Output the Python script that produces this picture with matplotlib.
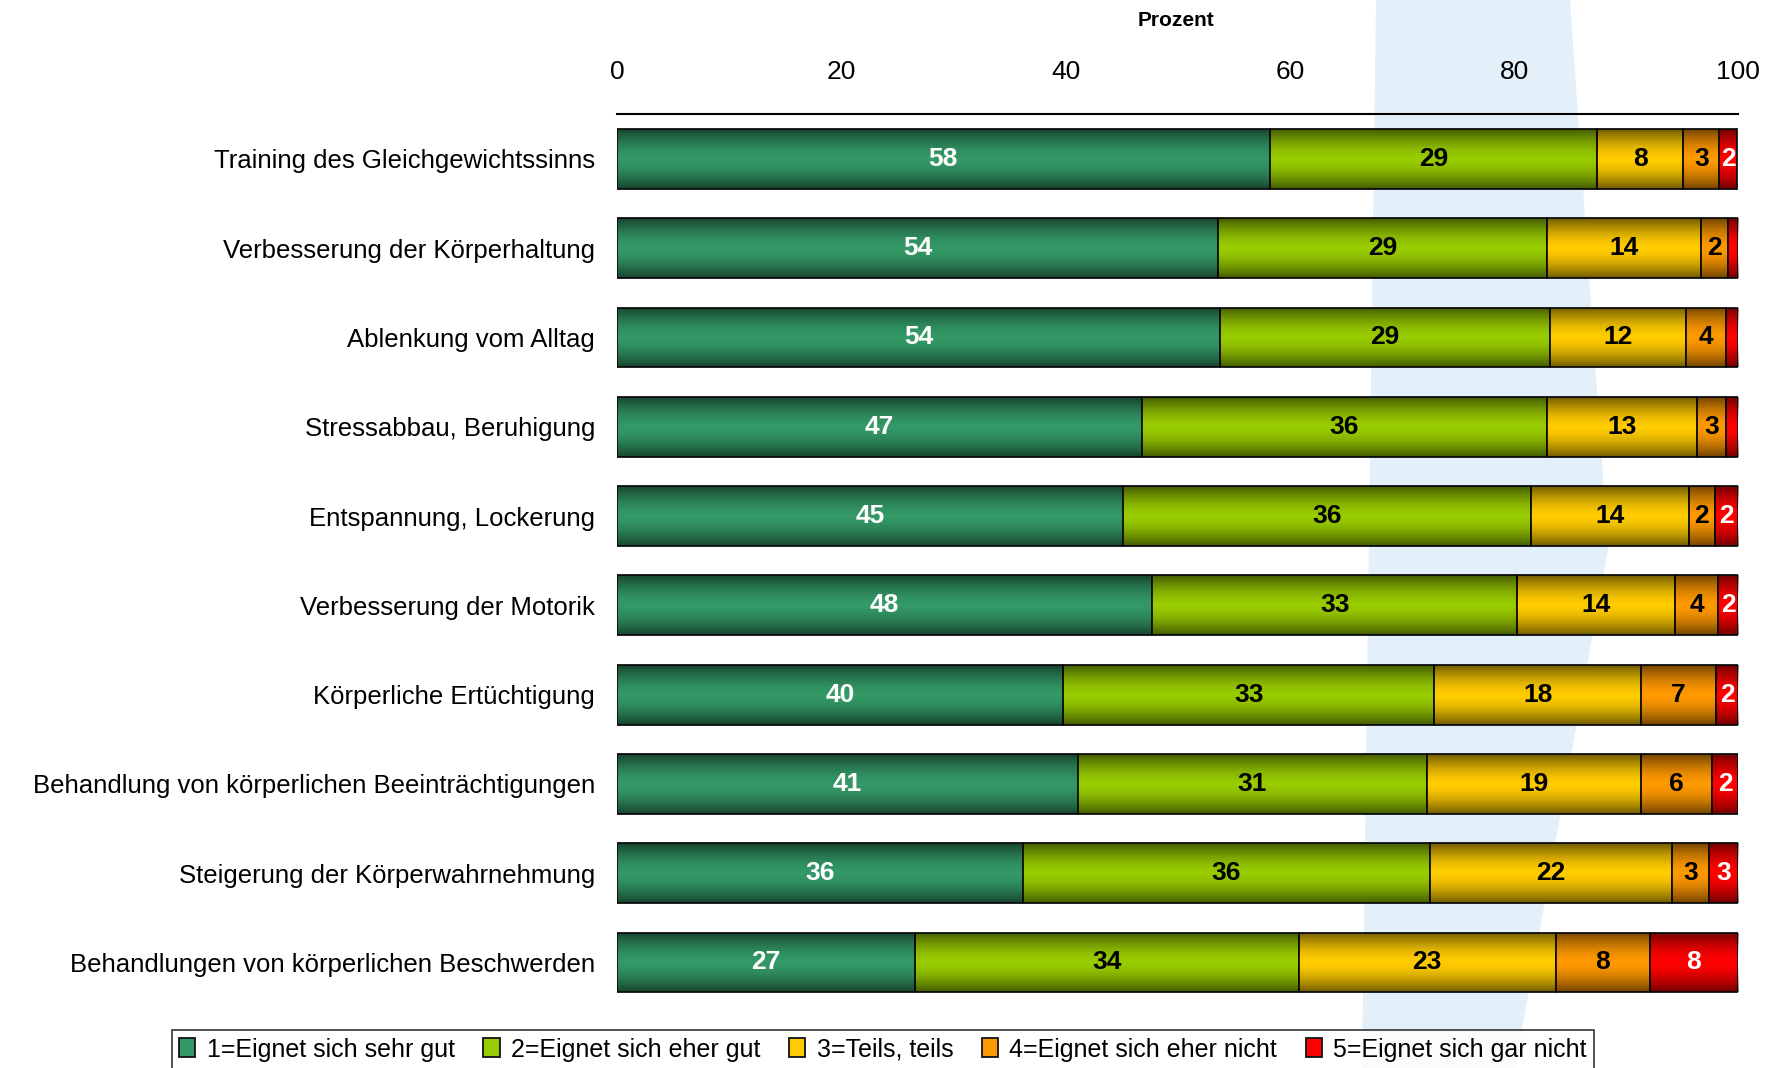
import numpy as np
import matplotlib

matplotlib.use("Agg")
import matplotlib.pyplot as plt
from matplotlib.patches import Polygon

plt.rcParams["font.family"] = ["Liberation Sans", "DejaVu Sans"]

categories = [
    "Training des Gleichgewichtssinns",
    "Verbesserung der Körperhaltung",
    "Ablenkung vom Alltag",
    "Stressabbau, Beruhigung",
    "Entspannung, Lockerung",
    "Verbesserung der Motorik",
    "Körperliche Ertüchtigung",
    "Behandlung von körperlichen Beeinträchtigungen",
    "Steigerung der Körperwahrnehmung",
    "Behandlungen von körperlichen Beschwerden",
]
sehr_gut = [58.2, 53.6, 53.8, 46.8, 45.1, 47.7, 39.8, 41.1, 36.2, 26.6]
eher_gut = [29.2, 29.3, 29.4, 36.1, 36.4, 32.6, 33.1, 31.1, 36.3, 34.2]
teils = [7.7, 13.8, 12.1, 13.4, 14.1, 14.1, 18.4, 19.1, 21.6, 22.9]
eher_nicht = [3.2, 2.4, 3.6, 2.6, 2.3, 3.8, 6.7, 6.4, 3.3, 8.4]
gar_nicht = [1.6, 0.9, 1.1, 1.1, 2.1, 1.8, 2.0, 2.3, 2.6, 7.9]

series_labels = [
    "1=Eignet sich sehr gut",
    "2=Eignet sich eher gut",
    "3=Teils, teils",
    "4=Eignet sich eher nicht",
    "5=Eignet sich gar nicht",
]
series = [sehr_gut, eher_gut, teils, eher_nicht, gar_nicht]
colors = ["#339966", "#99cc00", "#ffcc00", "#ff9900", "#ff0000"]
text_colors = ["white", "black", "black", "black", "white"]
x_ticks = [0, 20, 40, 60, 80, 100]

W, H = 1781, 1068
fig = plt.figure(figsize=(W / 100, H / 100), dpi=100)

# light blue watermark stripe behind everything
stripe = Polygon(
    [(1376 / W, 1), (1570 / W, 1), (1608 / W, 1 - 550 / H),
     (1515 / W, 0), (1362 / W, 0)],
    closed=True, transform=fig.transFigure, facecolor="#e3f0fa",
    edgecolor="none", zorder=-10)
fig.patches.append(stripe)

ax = fig.add_axes([0.3465, 0.057, 0.6295, 0.836])
ax.set_zorder(1)
ax.patch.set_alpha(0)

y = np.arange(len(categories))
# vertical shading: dark at top/bottom edges, bright in the middle
t = np.linspace(-1, 1, 64)
shade = np.zeros((64, 1, 4))
shade[:, 0, 3] = 0.55 * np.abs(t) ** 1.6

left = np.zeros(len(categories))
for vals, col, tcol, lab in zip(series, colors, text_colors, series_labels):
    vals = np.array(vals)
    bars = ax.barh(y, vals, left=left, height=0.67, color=col,
                   edgecolor="#111111", linewidth=1.3, label=lab, zorder=2)
    for bar, v in zip(bars, vals):
        bx, by = bar.get_x(), bar.get_y()
        im = ax.imshow(shade, extent=(bx, bx + bar.get_width(), by,
                                      by + bar.get_height()),
                       aspect="auto", zorder=2.5, interpolation="bilinear")
        im.set_clip_path(bar)
        if v >= 1.5:
            ax.text(bx + v / 2, by + bar.get_height() / 2,
                    f"{round(v)}", ha="center", va="center", color=tcol,
                    fontsize=19, fontweight="bold", zorder=4)
    left += vals

ax.set_xlim(0, 100)
ax.set_ylim(len(categories) - 0.5, -0.5)
ax.xaxis.tick_top()
ax.set_xticks(x_ticks)
ax.set_xticklabels([str(v) for v in x_ticks], fontsize=19)
ax.tick_params(axis="x", length=0, pad=22)
ax.set_yticks(y)
ax.set_yticklabels(categories, fontsize=18.5)
ax.tick_params(axis="y", length=0, pad=16)
for side in ["left", "right", "bottom"]:
    ax.spines[side].set_visible(False)
ax.spines["top"].set_linewidth(1.5)

fig.text(0.6605, 1 - 21 / H, "Prozent", ha="center", va="center",
         fontsize=15, fontweight="bold")

leg = fig.legend(loc="upper center", bbox_to_anchor=(0.4958, 1 - 1030 / H),
                 ncol=5, fontsize=18, frameon=True, fancybox=False,
                 edgecolor="black", handlelength=0.65, handleheight=0.8,
                 handletextpad=0.45, columnspacing=1.15, borderpad=0.3,
                 borderaxespad=0)
leg.get_frame().set_linewidth(1.2)
leg.set_zorder(5)

fig.savefig("out.png", dpi=100)
